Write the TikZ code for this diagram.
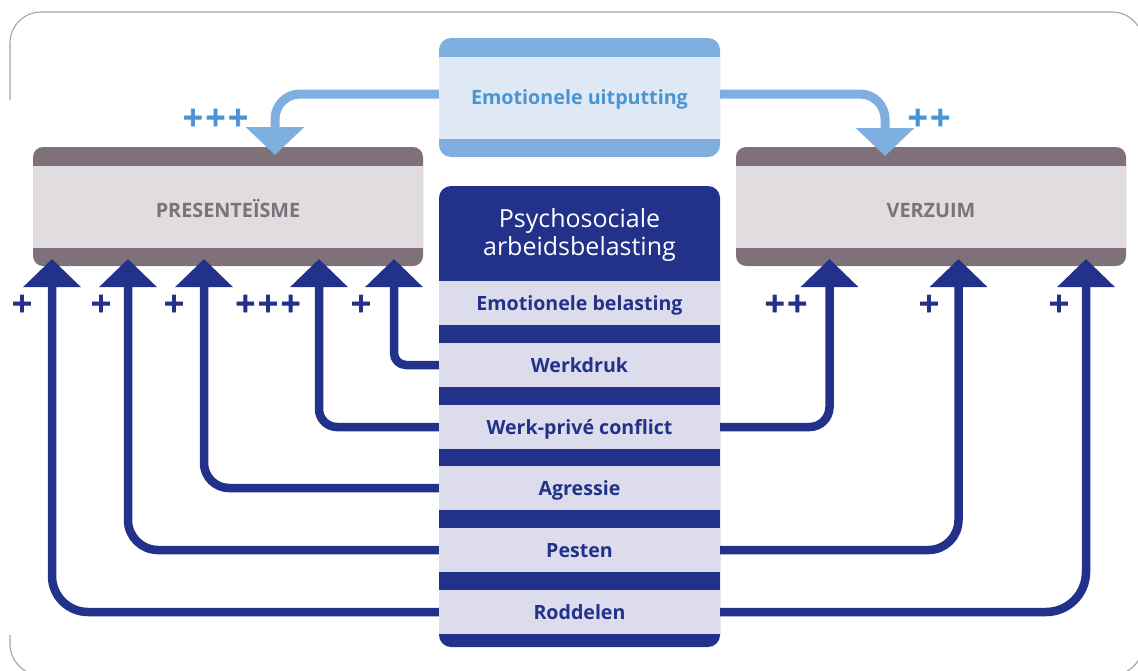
\documentclass[tikz,border=0pt]{standalone}
\usepackage{fontspec}
\setmainfont{Open Sans}
\newfontfamily\plusfont[FakeBold=3]{DejaVu Sans Bold}
\usetikzlibrary{arrows.meta}
\definecolor{navy}{HTML}{22318A}
\definecolor{rowlight}{HTML}{DCDCEC}
\definecolor{band}{HTML}{7F7179}
\definecolor{grayfill}{HTML}{E0DCDF}
\definecolor{lblue}{HTML}{7EAFDF}
\definecolor{pblue}{HTML}{DFE9F6}
\definecolor{tblue}{HTML}{4A94D2}
\definecolor{framec}{HTML}{A9A2A4}
\tikzset{
  outbox/.style={minimum width=390pt, minimum height=119pt, inner sep=0pt, fill=band,
    rounded corners=10pt, text=band, font=\bfseries\fontsize{19.8}{22}\selectfont,
    text height=21pt, text depth=0pt,
    path picture={\fill[grayfill, sharp corners] ([yshift=-19pt]path picture bounding box.north west)
      rectangle ([yshift=18pt]path picture bounding box.south east);}},
  topbox/.style={minimum width=281pt, minimum height=119pt, inner sep=0pt, fill=lblue,
    rounded corners=12pt, text=tblue, font=\bfseries\fontsize{19.7}{22}\selectfont,
    text depth=0pt,
    path picture={\fill[pblue, sharp corners] ([yshift=-19pt]path picture bounding box.north west)
      rectangle ([yshift=18pt]path picture bounding box.south east);}},
  stackbg/.style={minimum width=281pt, minimum height=461pt, inner sep=0pt, fill=navy,
    rounded corners=12pt},
  titletext/.style={text=white, align=center, font=\fontsize{25}{28}\selectfont, inner sep=0pt},
  rowbox/.style={minimum width=281pt, minimum height=44pt, inner sep=0pt, fill=rowlight,
    text=navy, font=\bfseries\fontsize{19.6}{22}\selectfont, text depth=0pt},
  navyarr/.style={draw=navy, line width=8.5pt, rounded corners=#1,
    -{Triangle[length=28pt 0 0, width=56pt 0 0]}},
  bluearr/.style={draw=lblue, line width=9pt, rounded corners=25pt,
    -{Triangle[length=28pt 0 0, width=57pt 0 0]}},
  plusn/.style={font=\plusfont\fontsize{27}{27}\selectfont, inner sep=0pt, anchor=base, text=navy},
  plusb/.style={plusn, text=tblue},
}
\begin{document}
\begin{tikzpicture}[x=1pt,y=-1pt]
\useasboundingbox (0,0) rectangle (1138,670);
% frame
\draw[framec, line width=1.1pt, rounded corners=31pt]
  (10,100) -- (10,12) -- (1143,12) -- (1143,675) -- (10,675) -- (10,635);
% boxes
\node[topbox] (eu) at (579.5,97.5) {Emotionele uitputting};
\node[outbox] (pres) at (228,206.5) {PRESENTEÏSME};
\node[outbox] (verz) at (931,206.5) {VERZUIM};
\node[stackbg] (stack) at (579.5,416.5) {};
\node[titletext] (psy) at (579.5,234.5) {Psychosociale\\arbeidsbelasting};
\node[rowbox] (r1) at (579.5,303) {Emotionele belasting};
\node[rowbox] (r2) at (579.5,365) {Werkdruk};
\node[rowbox] (r3) at (579.5,427) {Werk-privé conflict};
\node[rowbox] (r4) at (579.5,488) {Agressie};
\node[rowbox] (r5) at (579.5,550) {Pesten};
\node[rowbox] (r6) at (579.5,612) {Roddelen};
% arrow tips
\coordinate (TL) at (275,155);
\coordinate (TR) at (885,156);
\coordinate (L1) at (52,259);
\coordinate (L2) at (128,259);
\coordinate (L3) at (204,259);
\coordinate (L4) at (319,259);
\coordinate (L5) at (394,259);
\coordinate (R1) at (829.5,259);
\coordinate (R2) at (958.5,259);
\coordinate (R3) at (1086,259);
% light blue arrows
\draw[bluearr] ([yshift=3.5pt]eu.west) -| (TL);
\draw[bluearr] ([yshift=3.5pt]eu.east) -| (TR);
% navy arrows
\draw[navyarr=12pt] (r2.west) -| (L5);
\draw[navyarr=18pt] (r3.west) -| (L4);
\draw[navyarr=20pt] (r3.east) -| (R1);
\draw[navyarr=25pt] (r4.west) -| (L3);
\draw[navyarr=30pt] (r5.west) -| (L2);
\draw[navyarr=30pt] (r5.east) -| (R2);
\draw[navyarr=36pt] (r6.west) -| (L1);
\draw[navyarr=40pt] (r6.east) -| (R3);
% plus labels
\node[plusb] (p1) at (215.5,126) {+++};
\node[plusb] (p2) at (929,126) {++};
\node[plusn] (q1) at (22,312) {+};
\node[plusn] (q2) at (101,312) {+};
\node[plusn] (q3) at (174,312) {+};
\node[plusn] (q4) at (268,312) {+++};
\node[plusn] (q5) at (361,312) {+};
\node[plusn] (q6) at (786,312) {++};
\node[plusn] (q7) at (929,312) {+};
\node[plusn] (q8) at (1059,312) {+};
\end{tikzpicture}
\end{document}
